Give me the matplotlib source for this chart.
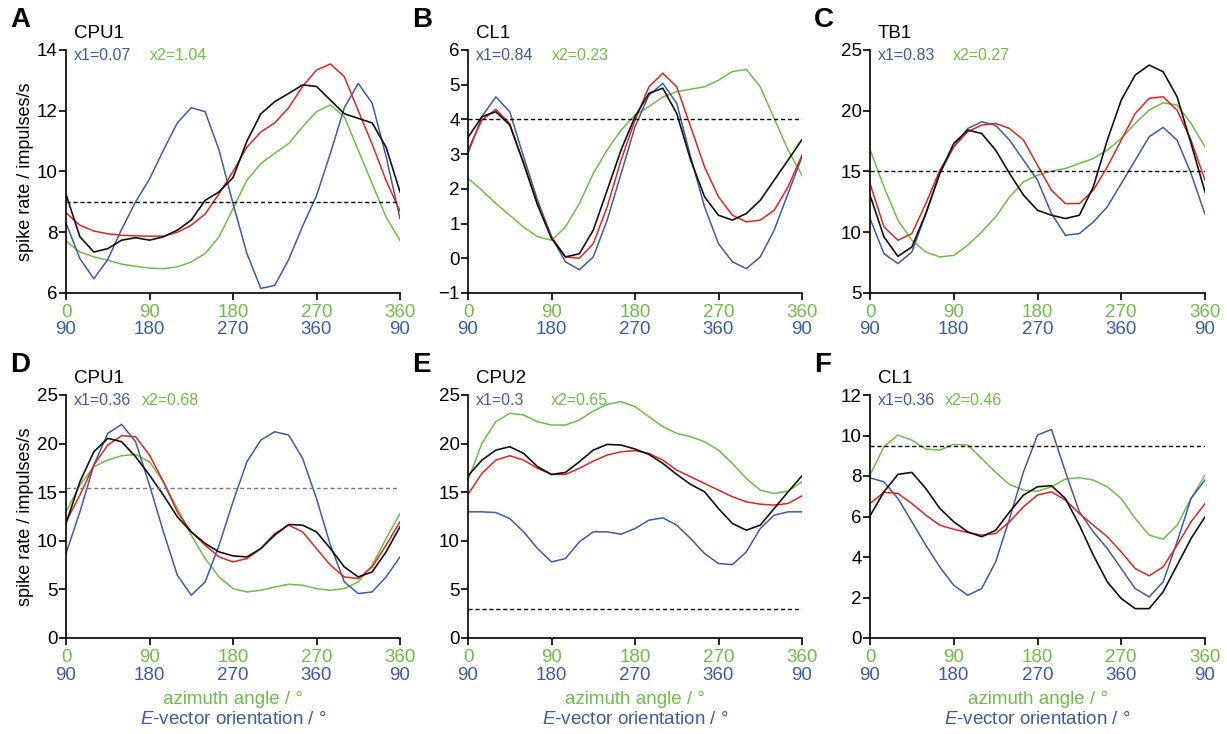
import numpy as np
import matplotlib
matplotlib.use('Agg')
import matplotlib.pyplot as plt
import matplotlib.transforms as mtransforms

plt.rcParams['font.family'] = ['Liberation Sans', 'DejaVu Sans']
plt.rcParams['mathtext.fontset'] = 'custom'
plt.rcParams['mathtext.it'] = 'Liberation Sans:italic'
plt.rcParams['mathtext.rm'] = 'Liberation Sans'

BLUE = '#3d5aa8'
GREEN = '#6dbe45'
RED = '#e42320'
BLACK = '#111111'

# azimuth angle (deg), sampled every 15 deg
ang = np.arange(0, 361, 15)
az_labels = ['0', '90', '180', '270', '360']
ev_labels = ['90', '180', '270', '360', '90']

# A  CPU1
a_blue = [8.3, 7.13, 6.47, 7.1, 8.1, 9.0, 9.75, 10.7, 11.6, 12.1, 11.97, 10.7, 8.95,
          7.3, 6.15, 6.25, 7.1, 8.2, 9.2, 10.6, 12.1, 12.9, 12.25, 10.5, 8.45]
a_green = [7.71, 7.35, 7.19, 7.08, 6.95, 6.88, 6.82, 6.8, 6.86, 7.02, 7.3, 7.85, 8.78,
           9.71, 10.26, 10.6, 10.92, 11.47, 11.97, 12.19, 11.8, 10.7, 9.6, 8.5, 7.73]
a_red = [8.64, 8.23, 8.04, 7.95, 7.9, 7.88, 7.87, 7.87, 8.0, 8.23, 8.6, 9.27, 10.0,
         10.8, 11.3, 11.6, 12.1, 12.8, 13.34, 13.54, 13.12, 12.0, 10.9, 9.7, 8.7]
a_black = [9.25, 7.85, 7.35, 7.46, 7.74, 7.82, 7.74, 7.85, 8.07, 8.4, 9.05, 9.33, 9.8,
           11.0, 11.9, 12.3, 12.57, 12.85, 12.8, 12.35, 11.9, 11.75, 11.6, 10.8, 9.33]

# B  CL1
b_blue = [3.02, 4.08, 4.65, 4.22, 2.92, 1.67, 0.62, -0.1, -0.33, 0.04, 1.1, 2.44, 3.79,
          4.7, 5.04, 4.46, 2.92, 1.48, 0.42, -0.1, -0.3, 0.04, 0.81, 1.87, 2.92]
b_green = [2.3, 1.96, 1.58, 1.24, 0.9, 0.62, 0.52, 0.9, 1.58, 2.44, 3.12, 3.69, 4.13,
           4.37, 4.65, 4.8, 4.87, 4.94, 5.13, 5.38, 5.44, 4.94, 4.03, 3.12, 2.39]
b_red = [3.12, 3.98, 4.29, 3.88, 2.73, 1.58, 0.62, 0.04, 0.0, 0.42, 1.48, 2.83, 3.98,
         4.94, 5.33, 4.94, 3.79, 2.63, 1.77, 1.24, 1.05, 1.1, 1.38, 2.06, 2.97]
b_black = [3.48, 4.08, 4.22, 3.84, 2.73, 1.53, 0.57, 0.04, 0.13, 0.81, 1.96, 3.12, 4.08,
           4.75, 4.9, 4.17, 2.83, 1.77, 1.24, 1.1, 1.29, 1.67, 2.25, 2.83, 3.42]

# C  TB1
c_blue = [11.13, 8.24, 7.42, 8.38, 11.54, 14.84, 17.03, 18.54, 19.09, 18.8, 17.58, 15.93, 14.29,
          11.54, 9.75, 9.89, 10.85, 12.09, 14.01, 15.93, 17.86, 18.63, 17.58, 14.84, 11.48]
c_green = [16.81, 13.74, 10.99, 9.34, 8.38, 7.97, 8.1, 8.93, 10.03, 11.26, 12.91, 14.15, 14.7,
           15.03, 15.25, 15.66, 16.07, 16.76, 17.72, 18.96, 20.05, 20.66, 20.47, 18.96, 17.03]
c_red = [14.01, 10.44, 9.34, 9.89, 12.36, 15.1, 17.03, 18.27, 18.82, 18.96, 18.54, 17.58, 15.52,
         13.46, 12.36, 12.36, 13.46, 15.38, 17.58, 19.78, 21.02, 21.15, 20.05, 17.58, 14.29]
c_black = [13.05, 9.62, 8.02, 8.79, 11.54, 14.84, 17.31, 18.41, 18.13, 16.76, 14.84, 13.05, 11.81,
           11.4, 11.13, 11.4, 13.74, 17.58, 20.88, 22.94, 23.76, 23.21, 21.15, 17.31, 13.32]

# D  CPU1
d_blue = [8.69, 12.98, 17.79, 21.05, 21.98, 20.19, 15.73, 10.92, 6.46, 4.4, 5.77, 9.55, 14.01,
          18.13, 20.36, 21.22, 20.88, 18.48, 14.35, 9.55, 5.77, 4.57, 4.74, 6.28, 8.34]
d_green = [12.98, 15.73, 17.62, 18.3, 18.75, 18.89, 18.13, 16.07, 13.32, 10.58, 8.17, 6.28, 5.08,
           4.74, 4.91, 5.25, 5.53, 5.43, 5.08, 4.91, 5.08, 5.77, 7.49, 10.23, 12.81]
d_red = [11.95, 14.7, 17.79, 19.85, 20.81, 20.71, 18.82, 16.07, 12.98, 10.92, 9.55, 8.34, 7.83,
         8.17, 9.2, 10.75, 11.61, 10.92, 9.2, 7.49, 6.28, 6.11, 7.31, 9.55, 11.95]
d_black = [11.78, 16.07, 19.16, 20.54, 20.19, 18.65, 16.76, 14.7, 12.47, 10.92, 9.72, 8.86, 8.45,
           8.34, 9.2, 10.58, 11.68, 11.61, 10.92, 9.2, 7.31, 6.28, 6.8, 8.86, 11.44]

# E  CPU2
e_blue = [12.98, 12.98, 12.91, 12.29, 10.92, 9.2, 7.83, 8.17, 9.89, 10.92, 10.92, 10.68, 11.26,
          12.12, 12.36, 11.61, 10.23, 8.69, 7.66, 7.55, 8.86, 11.26, 12.64, 12.98, 12.98]
e_green = [16.24, 20.02, 22.25, 23.11, 22.94, 22.25, 21.91, 21.91, 22.42, 23.35, 24.04, 24.31, 23.8,
           22.77, 21.74, 21.05, 20.71, 20.19, 19.33, 17.96, 16.41, 15.21, 14.87, 15.11, 16.07]
e_red = [14.77, 16.93, 18.3, 18.75, 18.3, 17.45, 16.83, 16.83, 17.45, 18.2, 18.82, 19.16, 19.27,
         18.99, 18.3, 17.27, 16.59, 15.9, 15.21, 14.53, 14.01, 13.77, 13.67, 13.84, 14.63]
e_black = [16.69, 18.3, 19.33, 19.68, 18.99, 17.62, 16.83, 17.03, 18.13, 19.33, 19.92, 19.85, 19.44,
           18.89, 17.96, 16.83, 15.8, 15.04, 13.32, 11.78, 11.09, 11.61, 13.32, 15.04, 16.69]

# F  CL1
f_blue = [7.91, 7.71, 6.89, 5.74, 4.58, 3.51, 2.6, 2.11, 2.44, 3.76, 5.9, 8.21, 10.02,
          10.3, 8.21, 6.23, 5.24, 4.42, 3.43, 2.44, 2.03, 2.77, 4.75, 6.89, 7.8]
f_green = [8.04, 9.45, 10.02, 9.77, 9.33, 9.28, 9.56, 9.53, 8.87, 8.18, 7.58, 7.3, 7.25,
           7.47, 7.85, 7.91, 7.8, 7.47, 6.89, 5.9, 5.08, 4.88, 5.57, 6.89, 8.04]
f_red = [6.64, 7.19, 7.14, 6.64, 6.07, 5.57, 5.37, 5.21, 5.08, 5.16, 5.74, 6.48, 7.06,
         7.22, 6.81, 6.15, 5.57, 5.0, 4.25, 3.43, 3.07, 3.51, 4.58, 5.74, 6.63]
f_black = [6.03, 7.22, 8.08, 8.18, 7.38, 6.4, 5.74, 5.24, 5.0, 5.32, 6.23, 7.06, 7.47,
           7.52, 6.89, 5.57, 4.09, 2.77, 1.95, 1.45, 1.45, 2.28, 3.59, 4.91, 5.98]

letters = ['A', 'B', 'C', 'D', 'E', 'F']
cells = ['CPU1', 'CL1', 'TB1', 'CPU1', 'CPU2', 'CL1']
x1_vals = ['x1=0.07', 'x1=0.84', 'x1=0.83', 'x1=0.36', 'x1=0.3', 'x1=0.36']
x2_vals = ['x2=1.04', 'x2=0.23', 'x2=0.27', 'x2=0.68', 'x2=0.65', 'x2=0.46']
baselines = [9.0, 4.0, 15.0, 15.45, 3.0, 9.48]
ylims = [(6, 14), (-1, 6), (5, 25), (0, 25), (0, 25), (0, 12)]
yticks = [np.arange(6, 15, 2), np.arange(-1, 7, 1), np.arange(5, 26, 5),
          np.arange(0, 26, 5), np.arange(0, 26, 5), np.arange(0, 13, 2)]
series = [(a_blue, a_green, a_red, a_black), (b_blue, b_green, b_red, b_black),
          (c_blue, c_green, c_red, c_black), (d_blue, d_green, d_red, d_black),
          (e_blue, e_green, e_red, e_black), (f_blue, f_green, f_red, f_black)]

W, H = 1227, 734
fig = plt.figure(figsize=(W / 100, H / 100), dpi=100)

lefts = [66, 468, 870]
widths = [334, 334, 335]
bottoms = [293, 638]
x2_off = [76, 76, 75, 68, 75, 67]

for i in range(6):
    row, col = divmod(i, 3)
    l, w, b = lefts[col], widths[col], bottoms[row]
    ax = fig.add_axes([l / W, 1 - b / H, w / W, 243 / H])
    blue, green, red, black = series[i]
    ax.plot(ang, green, color=GREEN, lw=1.1)
    ax.plot(ang, blue, color=BLUE, lw=1.1)
    ax.plot(ang, red, color=RED, lw=1.1)
    ax.plot(ang, black, color=BLACK, lw=1.2)
    dash_col = '#777777' if i == 3 else 'black'
    ax.axhline(baselines[i], color=dash_col, lw=1.0, ls=(0, (3, 2)))

    ax.set_xlim(0, 360)
    ax.set_ylim(*ylims[i])
    ax.set_yticks(yticks[i])
    ax.set_xticks([0, 90, 180, 270, 360])
    ax.set_xticklabels([])
    for s in ['top', 'right']:
        ax.spines[s].set_visible(False)
    for s in ['left', 'bottom']:
        ax.spines[s].set_linewidth(1.2)
    ax.tick_params(direction='out', length=5, width=1.2, labelsize=13.5, pad=1)

    # two rows of x tick labels: azimuth (green) and E-vector (blue)
    tr = ax.get_xaxis_transform()
    for xv, g, bl in zip([0, 90, 180, 270, 360], az_labels, ev_labels):
        ax.text(xv, 0, g, color=GREEN, fontsize=13.5, ha='center', va='center',
                transform=mtransforms.offset_copy(tr, fig=fig, x=0, y=-20, units='dots'))
        ax.text(xv, 0, bl, color=BLUE, fontsize=13.5, ha='center', va='center',
                transform=mtransforms.offset_copy(tr, fig=fig, x=0, y=-37, units='dots'))

    top = b - 243
    fig.text((l - 56) / W, 1 - (top - 30) / H, letters[i], fontsize=20, fontweight='bold',
             ha='left', va='center')
    fig.text((l + 8) / W, 1 - (top - 17) / H, cells[i], fontsize=13.5, ha='left', va='center')
    fig.text((l + 8) / W, 1 - (top + 5) / H, x1_vals[i], color=BLUE, fontsize=11.5,
             ha='left', va='center')
    fig.text((l + 8 + x2_off[i]) / W, 1 - (top + 5) / H, x2_vals[i], color=GREEN, fontsize=11.5,
             ha='left', va='center')

    if col == 0:
        fig.text(26 / W, 1 - (b - 121.5) / H, 'spike rate / impulses/s', fontsize=13,
                 rotation=90, ha='center', va='center')
    if row == 1:
        fig.text((l + w / 2) / W, 1 - (b + 62) / H, 'azimuth angle / °', color=GREEN,
                 fontsize=13.5, ha='center', va='center')
        fig.text((l + w / 2) / W, 1 - (b + 82) / H, r'$\mathit{E}$-vector orientation / °',
                 color=BLUE, fontsize=13.5, ha='center', va='center')

fig.savefig('out.png', dpi=100)
